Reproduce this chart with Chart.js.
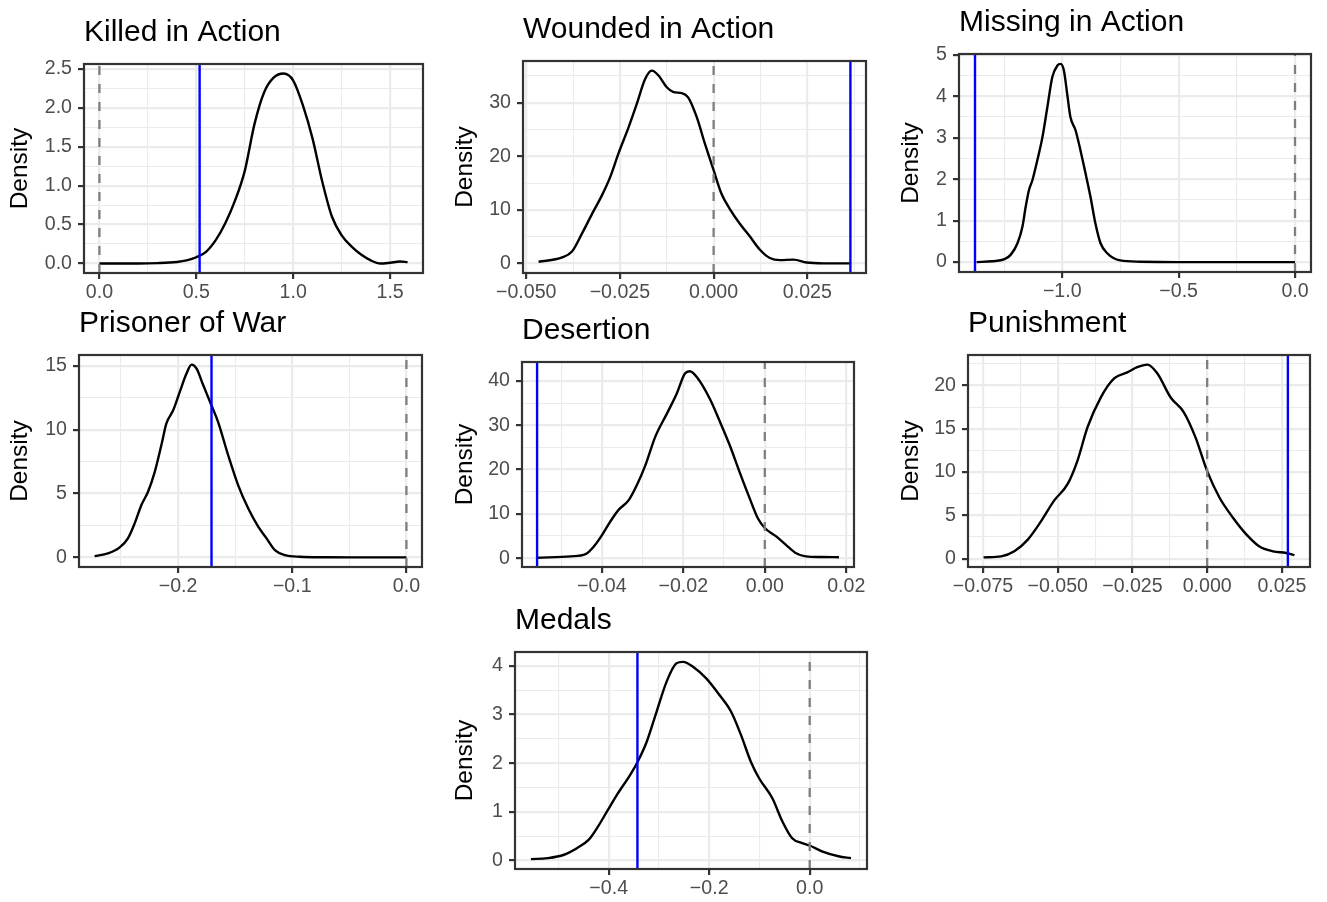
<!DOCTYPE html>
<html>
<head>
<meta charset="utf-8">
<script src="https://cdn.jsdelivr.net/npm/chart.js@4/dist/chart.umd.min.js"></script>
<style>
  html, body { margin: 0; padding: 0; background: #fff; }
  #page { position: relative; width: 1327px; height: 902px; overflow: hidden; }
  #page canvas { position: absolute; }
</style>
</head>
<body>
<div id="page"></div>
<script>
// density curves (x, density) and observed value for each outcome
const kiaX = [0.00, 0.10, 0.20, 0.30, 0.40, 0.45, 0.50, 0.55, 0.60, 0.65, 0.70, 0.75, 0.80, 0.85, 0.90, 0.95, 1.00, 1.05, 1.10, 1.15, 1.20, 1.25, 1.30, 1.35, 1.40, 1.45, 1.50, 1.55, 1.59];
const kiaY = [0.00, 0.00, 0.00, 0.005, 0.02, 0.04, 0.08, 0.15, 0.30, 0.52, 0.81, 1.19, 1.79, 2.20, 2.39, 2.44, 2.35, 2.03, 1.60, 1.05, 0.60, 0.36, 0.22, 0.115, 0.04, 0.00, 0.01, 0.025, 0.017];
const kiaObs = 0.517;

const wiaX = [-0.0467, -0.0404, -0.0378, -0.0351, -0.0324, -0.0298, -0.0276, -0.0254, -0.0227, -0.0205, -0.0183, -0.0165, -0.0147, -0.0125, -0.0107, -0.0085, -0.0068, -0.0045, -0.0023, 0.0000, 0.0021, 0.0043, 0.0070, 0.0097, 0.0123, 0.0150, 0.0177, 0.0213, 0.0248, 0.0293, 0.0364];
const wiaY = [0.3, 1.1, 2.2, 5.6, 9.3, 12.7, 16.1, 20.5, 25.4, 29.8, 34.4, 36.0, 35.1, 32.9, 32.0, 31.8, 31.0, 27.3, 22.3, 17.4, 13.0, 10.2, 7.4, 5.0, 2.6, 1.0, 0.6, 0.7, 0.15, 0.0, 0.0];
const wiaObs = 0.0365;

const miaX = [-1.368, -1.300, -1.248, -1.221, -1.192, -1.171, -1.157, -1.143, -1.128, -1.107, -1.085, -1.064, -1.043, -1.021, -1.007, -0.993, -0.979, -0.965, -0.943, -0.922, -0.900, -0.879, -0.858, -0.836, -0.808, -0.751, -0.667, -0.500, -0.250, 0.000];
const miaY = [0.00, 0.02, 0.07, 0.18, 0.46, 0.86, 1.34, 1.74, 1.98, 2.46, 3.02, 3.74, 4.46, 4.74, 4.78, 4.62, 4.06, 3.50, 3.18, 2.70, 2.14, 1.58, 0.94, 0.46, 0.22, 0.04, 0.01, 0.00, 0.00, 0.00];
const miaObs = -1.375;

const powX = [-0.2731, -0.2614, -0.2511, -0.2439, -0.2380, -0.2321, -0.2263, -0.2204, -0.2146, -0.2102, -0.2044, -0.1985, -0.1926, -0.1882, -0.1839, -0.1780, -0.1707, -0.1649, -0.1561, -0.1474, -0.1386, -0.1298, -0.1225, -0.1152, -0.1064, -0.0932, -0.0700, -0.0400, 0.0000];
const powY = [0.10, 0.31, 0.78, 1.49, 2.66, 4.10, 5.14, 6.70, 8.80, 10.5, 11.5, 12.97, 14.4, 15.1, 14.8, 13.5, 11.9, 10.6, 8.0, 5.66, 3.84, 2.40, 1.49, 0.57, 0.18, 0.05, 0.01, 0.00, 0.00];
const powObs = -0.1707;

const desX = [-0.0558, -0.0476, -0.0440, -0.0420, -0.0399, -0.0379, -0.0359, -0.0334, -0.0314, -0.0293, -0.0269, -0.0240, -0.0216, -0.0196, -0.0184, -0.0167, -0.0135, -0.0110, -0.0086, -0.0062, -0.0037, -0.0017, 0.0000, 0.0028, 0.0052, 0.0077, 0.0101, 0.0140, 0.0182];
const desY = [0.1, 0.4, 0.9, 2.6, 5.3, 8.3, 10.9, 13.1, 16.5, 21.0, 27.4, 32.7, 37.2, 41.7, 42.2, 40.9, 36.0, 30.8, 25.5, 19.5, 13.5, 9.0, 6.8, 4.9, 3.0, 1.1, 0.4, 0.25, 0.2];
const desObs = -0.0559;

const punX = [-0.0748, -0.0689, -0.0645, -0.0600, -0.0556, -0.0512, -0.0467, -0.0434, -0.0400, -0.0356, -0.0311, -0.0267, -0.0234, -0.0200, -0.0167, -0.0122, -0.0078, -0.0039, 0.0000, 0.0042, 0.0087, 0.0131, 0.0175, 0.0220, 0.0264, 0.0292];
const punY = [0.15, 0.27, 0.85, 2.2, 4.3, 6.7, 8.6, 11.3, 15.2, 18.6, 20.8, 21.5, 22.1, 22.4, 21.4, 18.6, 16.9, 14.0, 10.1, 7.0, 4.7, 2.8, 1.4, 0.85, 0.65, 0.4];
const punObs = 0.027;

const medX = [-0.5546, -0.5217, -0.4888, -0.4625, -0.4395, -0.4230, -0.4033, -0.3836, -0.3572, -0.3428, -0.3243, -0.3046, -0.2849, -0.2651, -0.2520, -0.2322, -0.2059, -0.1796, -0.1566, -0.1368, -0.1171, -0.1007, -0.0743, -0.0546, -0.0349, -0.0151, 0.0000, 0.0243, 0.0572, 0.0822];
const medY = [0.03, 0.05, 0.12, 0.26, 0.43, 0.67, 1.01, 1.35, 1.76, 2.02, 2.44, 3.06, 3.67, 4.05, 4.08, 3.98, 3.74, 3.40, 3.06, 2.58, 2.03, 1.69, 1.28, 0.81, 0.46, 0.36, 0.31, 0.19, 0.09, 0.05];
const medObs = -0.3428;

// axis breaks
const kiaXTicks = [0, 0.5, 1.0, 1.5];
const kiaYTicks = [0, 0.5, 1.0, 1.5, 2.0, 2.5];
const wiaXTicks = [-0.05, -0.025, 0, 0.025];
const wiaYTicks = [0, 10, 20, 30];
const miaXTicks = [-1.0, -0.5, 0.0];
const miaYTicks = [0, 1, 2, 3, 4, 5];
const powXTicks = [-0.2, -0.1, 0.0];
const powYTicks = [0, 5, 10, 15];
const desXTicks = [-0.04, -0.02, 0.00, 0.02];
const desYTicks = [0, 10, 20, 30, 40];
const punXTicks = [-0.075, -0.05, -0.025, 0, 0.025];
const punYTicks = [0, 5, 10, 15, 20];
const medXTicks = [-0.4, -0.2, 0.0];
const medYTicks = [0, 1, 2, 3, 4];

const panels = [
  { title: "Killed in Action", x: kiaX, y: kiaY, obs: kiaObs, xTicks: kiaXTicks, xDigits: 1, yTicks: kiaYTicks, yDigits: 1 },
  { title: "Wounded in Action", x: wiaX, y: wiaY, obs: wiaObs, xTicks: wiaXTicks, xDigits: 3, yTicks: wiaYTicks, yDigits: 0 },
  { title: "Missing in Action", x: miaX, y: miaY, obs: miaObs, xTicks: miaXTicks, xDigits: 1, yTicks: miaYTicks, yDigits: 0 },
  { title: "Prisoner of War", x: powX, y: powY, obs: powObs, xTicks: powXTicks, xDigits: 1, yTicks: powYTicks, yDigits: 0 },
  { title: "Desertion", x: desX, y: desY, obs: desObs, xTicks: desXTicks, xDigits: 2, yTicks: desYTicks, yDigits: 0 },
  { title: "Punishment", x: punX, y: punY, obs: punObs, xTicks: punXTicks, xDigits: 3, yTicks: punYTicks, yDigits: 0 },
  { title: "Medals", x: medX, y: medY, obs: medObs, xTicks: medXTicks, xDigits: 1, yTicks: medYTicks, yDigits: 0 }
];

// where each panel sits on the page: column edge, then the plotting box
const layout = [
  { col: 0,   left: 84,  top: 64,  right: 423,  bottom: 273 },
  { col: 445, left: 523, top: 61,  right: 866,  bottom: 273 },
  { col: 891, left: 959, top: 54,  right: 1311, bottom: 272 },
  { col: 0,   left: 79,  top: 355, right: 422,  bottom: 567 },
  { col: 445, left: 522, top: 362, right: 854,  bottom: 567 },
  { col: 891, left: 968, top: 355, right: 1310, bottom: 567 },
  { col: 445, left: 515, top: 652, right: 867,  bottom: 869 }
];

const FONT = "'Liberation Sans', Arial, Helvetica, sans-serif";
const TITLE_H = 49, XAXIS_H = 40, PAD_R = 20;

Chart.defaults.font.family = FONT;

function fmt(v, digits) {
  return v.toFixed(digits).replace("-", "\u2212");
}

// ggplot-style minor breaks halfway between the majors
function minorBreaks(major, lo, hi) {
  const step = major[1] - major[0];
  const out = [];
  for (let i = -1; i < major.length; i++) {
    const v = major[0] + step * (i + 0.5);
    if (v > lo && v < hi) out.push(v);
  }
  return out;
}

function expand(vals) {
  const lo = Math.min(...vals), hi = Math.max(...vals);
  const pad = (hi - lo) * 0.05;
  return [lo - pad, hi + pad];
}

function breakTicks(major, lo, hi) {
  const ticks = major.map(v => ({ value: v }));
  minorBreaks(major, lo, hi).forEach(v => ticks.push({ value: v, minor: true }));
  return ticks.sort((a, b) => a.value - b.value);
}

function axisStyle(ticks, digits, padding) {
  return {
    border: { display: false },
    grid: {
      color: "#EBEBEB",
      lineWidth: ctx => (ctx.tick && ctx.tick.minor ? 1.1 : 2.2),
      drawTicks: true,
      tickLength: 6,
      tickWidth: 2.2,
      tickColor: ctx => (ctx.tick && ctx.tick.minor ? "rgba(0,0,0,0)" : "#333333")
    },
    ticks: {
      autoSkip: false,
      maxRotation: 0,
      padding: padding,
      color: "#4D4D4D",
      font: { size: 19.6 },
      callback: (v, i, all) => (all[i].minor ? "" : fmt(v, digits))
    },
    afterBuildTicks: axis => { axis.ticks = ticks; }
  };
}

// frame around the plotting area, drawn over everything else
const panelBorder = {
  id: "panelBorder",
  afterDraw(chart) {
    const { ctx, chartArea: a } = chart;
    ctx.save();
    ctx.strokeStyle = "#333333";
    ctx.lineWidth = 2.2;
    ctx.strokeRect(a.left, a.top, a.right - a.left, a.bottom - a.top);
    ctx.restore();
  }
};

function createPanel(p, lay) {
  const canvas = document.createElement("canvas");
  const top = lay.top - TITLE_H;
  const w = lay.right - lay.col + PAD_R;
  const h = lay.bottom - top + XAXIS_H;
  canvas.width = w;
  canvas.height = h;
  canvas.style.left = lay.col + "px";
  canvas.style.top = top + "px";
  canvas.style.width = w + "px";
  canvas.style.height = h + "px";
  document.getElementById("page").appendChild(canvas);

  const [xMin, xMax] = expand(p.x.concat([0, p.obs]));
  const [yMin, yMax] = expand(p.y);
  const curve = p.x.map((x, i) => ({ x: x, y: p.y[i] }));

  const xAxis = axisStyle(breakTicks(p.xTicks, xMin, xMax), p.xDigits, 1.5);
  Object.assign(xAxis, {
    type: "linear", position: "bottom", min: xMin, max: xMax,
    afterFit: axis => { axis.height = XAXIS_H; }
  });
  const yAxis = axisStyle(breakTicks(p.yTicks, yMin, yMax), p.yDigits, 6);
  Object.assign(yAxis, {
    type: "linear", position: "left", min: yMin, max: yMax,
    title: { display: true, text: "Density", color: "#000", font: { size: 24.5 }, padding: { top: 6, bottom: 0 } },
    afterFit: axis => { axis.width = lay.left - lay.col; }
  });

  return new Chart(canvas.getContext("2d"), {
    type: "line",
    data: {
      datasets: [
        { data: [{ x: 0, y: yMin }, { x: 0, y: yMax }], borderColor: "#7F7F7F", borderWidth: 2.3, borderDash: [9, 9] },
        { data: [{ x: p.obs, y: yMin }, { x: p.obs, y: yMax }], borderColor: "#0000FF", borderWidth: 2.4 },
        { data: curve, borderColor: "#000000", borderWidth: 2.4, cubicInterpolationMode: "monotone" }
      ]
    },
    options: {
      responsive: false,
      animation: false,
      devicePixelRatio: 1,
      events: [],
      layout: { padding: { top: 0, left: 0, bottom: 0, right: PAD_R } },
      elements: { point: { radius: 0 }, line: { fill: false } },
      scales: { x: xAxis, y: yAxis },
      plugins: {
        legend: { display: false },
        tooltip: { enabled: false },
        title: {
          display: true, text: p.title, align: "start", fullSize: false,
          color: "#000", font: { size: 30, weight: "normal" },
          padding: { top: 0, bottom: TITLE_H - 36 }
        }
      }
    },
    plugins: [panelBorder]
  });
}

window.onload = () => {
  panels.forEach((p, i) => createPanel(p, layout[i]));
};
</script>
</body>
</html>
